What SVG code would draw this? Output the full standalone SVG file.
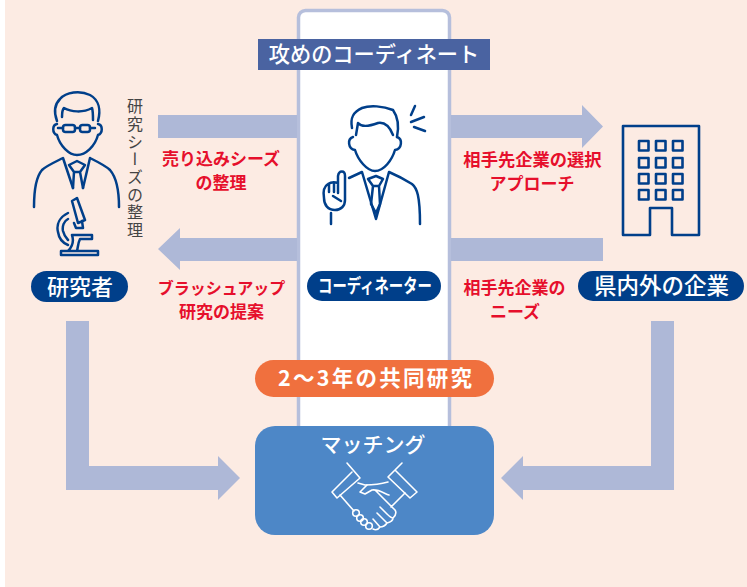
<svg xmlns="http://www.w3.org/2000/svg" width="747" height="587" viewBox="0 0 747 587">
<style>
text{font-family:"Noto Sans CJK JP","Noto Sans",sans-serif;text-anchor:middle}
.a{fill:#aeb8d7}
.r{fill:#e60f2c;font-size:17px;font-weight:700}
.w{fill:#fff;font-weight:500}
.s{font-weight:700}
.p{fill:#003f8a}
.i{fill:none;stroke:#003f8a;stroke-width:2.5;stroke-linecap:round;stroke-linejoin:round}
.b{fill:none;stroke:#003f8a;stroke-width:2.6;stroke-linejoin:round}
.h{fill:none;stroke:#fff;stroke-width:1.6;stroke-linecap:round;stroke-linejoin:round}
</style>
<rect x="0" y="0" width="747" height="587" fill="#fff"/>
<rect x="5" y="0" width="742" height="587" fill="#fcebe3"/>
<g id="column"><rect x="298.500" y="10.500" width="151" height="430" rx="7" fill="#fff" stroke="#b6bfdc" stroke-width="3.500"/></g>
<g id="connectors">
<rect class="a" x="158" y="115" width="139" height="23"/>
<path class="a" d="M158 249L180 228V238H297V261H180V270Z"/>
<path class="a" d="M451 115H582V105L603 126.500L582 148V138H451Z"/>
<rect class="a" x="451" y="238" width="152" height="23"/>
<path class="a" d="M66 321H89V466H218V456L240 478L218 500V490H66Z"/>
<path class="a" d="M651 321H674V490H523V500L501 478L523 456V466H651Z"/>
</g>
<g id="banner"><rect x="258" y="39" width="232" height="31" fill="#4a63a1"/><text class="w" x="374" y="62" font-size="21.200">攻めのコーディネート</text></g>
<g id="researcher">
<path class="i" d="M57 121C54 113 54 105 60 99C66 92 80 90 90 95C99 100 101 110 98 121"/>
<path class="i" d="M62 117C62 113 62 110 64 108C71 112 83 113 92 108C93 111 93 115 93 120"/>
<path class="i" d="M57 124C52 125 52 133 57 135C60 146 69 155 77 155C86 155 95 146 98 135C103 133 103 125 98 124"/>
<rect class="i" x="63" y="125" width="12" height="7" rx="2.500"/><rect class="i" x="80" y="125" width="10" height="7" rx="2.500"/><path class="i" d="M75 128H80M58 128H63M90 128H95"/>
<path class="i" d="M34 207C34 190 36 177 42 170C46 166 55 162 63 158L73 188M90 158L83 188M90 158C98 162 106 166 110 170C116 177 119 190 119 207"/>
<path class="i" d="M69 165L77 161L85 165L80 172H74ZM74 172L73 188M80 172L83 188"/>
<path class="i" d="M72 201L77 198L85 220L78 223ZM74 223L76 228H83L82 221M68 213C60 217 56 224 58 232C59 239 63 243 68 245M68 219C64 221 62 226 63 231C64 235 66 238 68 240M72 235H92V239H80C78 243 78 247 77 251M72 235C74 241 72 247 68 251M61 251H98V255H61Z"/>
</g>
<g id="coordinator">
<path class="i" d="M352 128C350 118 353 112 362 108C370 105 383 106 393 110C398 117 399 127 397 137"/>
<path class="i" d="M356 135L358 123C362 128 370 126 378 123C384 122 389 125 393 135"/>
<path class="i" d="M353 137C347 139 348 149 355 150C358 160 367 171 375 171C384 171 392 160 395 150C402 149 403 139 397 137"/>
<path class="i" d="M349 178L362 172L376 219L389 172C396 175 404 179 412 184C417 188 420 196 420 224"/>
<path class="i" d="M368 179L376 176L383 179L379 186H373ZM373 186L371 204L376 213L380 204L379 186"/>
<path class="i" d="M331 213V224M338 183V176C339 170 345 170 345 176V200C345 206 341 210 335 210C328 210 324 205 324 198C323 192 323 187 328 184C331 182 335 182 338 183L338 193M329 184V192M334 183V192M333 196L341 201"/>
<path class="i" d="M415 106L411 115M424 117L411 122M414 127L425 131"/>
</g>
<g id="company">
<path class="b" d="M623 126H699V235H672V208H650V235H623Z"/>
<g class="b"><rect x="639" y="141" width="9.500" height="9.500"/><rect x="656" y="141" width="9.500" height="9.500"/><rect x="673" y="141" width="9.500" height="9.500"/><rect x="639" y="158" width="9.500" height="9.500"/><rect x="656" y="158" width="9.500" height="9.500"/><rect x="673" y="158" width="9.500" height="9.500"/><rect x="639" y="174" width="9.500" height="9.500"/><rect x="656" y="174" width="9.500" height="9.500"/><rect x="673" y="174" width="9.500" height="9.500"/><rect x="639" y="190" width="9.500" height="9.500"/><rect x="656" y="190" width="9.500" height="9.500"/><rect x="673" y="190" width="9.500" height="9.500"/></g>
</g>
<g id="labels">
<text font-size="16" letter-spacing="1.700" fill="#444" writing-mode="vertical-rl" x="135" y="169">研究シーズの整理</text>
<text class="r" x="221" y="165">売り込みシーズ</text><text class="r" x="221" y="189">の整理</text>
<text class="r" x="221.500" y="294" style="font-size:16px">ブラッシュアップ</text><text class="r" x="221.500" y="318">研究の提案</text>
<text class="r" x="532.500" y="166" style="font-size:17.300px">相手先企業の選択</text><text class="r" x="532" y="190">アプローチ</text>
<text class="r" x="514.500" y="294">相手先企業の</text><text class="r" x="515" y="318">ニーズ</text>
</g>
<g id="researcher-pill"><rect class="p" x="31" y="271" width="97" height="31" rx="15.500"/><text class="w" x="80" y="294.500" font-size="22">研究者</text></g>
<g id="coordinator-pill"><rect class="p" x="307" y="271" width="134" height="30" rx="15"/><text class="w s" x="375" y="293" font-size="19" textLength="114" lengthAdjust="spacingAndGlyphs">コーディネーター</text></g>
<g id="company-pill"><rect class="p" x="578" y="271" width="166" height="30" rx="15"/><text class="w" x="661.500" y="294" font-size="22.500">県内外の企業</text></g>
<g id="period"><rect x="255" y="360" width="239" height="37" rx="18.500" fill="#f0703e"/><text class="w s" x="375" y="386" font-size="21.500" textLength="194">2～3年の共同研究</text></g>
<g id="matching"><rect x="255" y="426" width="239" height="109" rx="20" fill="#4d87c7"/>
<text class="w" x="373" y="452" font-size="21">マッチング</text>
<g class="h">
<path d="M347 463L360 478M352 472L332 492L337 498L360 478M402 463L388 477M395 470L417 492L410 498L388 477"/>
<path d="M340 495L354 511M358 483L365 485C372 485 381 484 388 482"/>
<path d="M405 493L391 507M367 485L360 492L365 494L372 490C379 489 385 494 389 495M375 490L395 510C397 513 395 516 393 518C391 518 390 517 387 514L380 507M387 523C391 522 393 520 393 518M377 513L387 523C385 526 383 527 380 527L373 519M380 527C378 530 375 530 373 529"/>
<circle cx="356" cy="513" r="3.300"/><circle cx="360" cy="518" r="3.300"/><circle cx="364" cy="522" r="3.300"/><circle cx="369" cy="526" r="3.300"/>
</g></g>
</svg>
